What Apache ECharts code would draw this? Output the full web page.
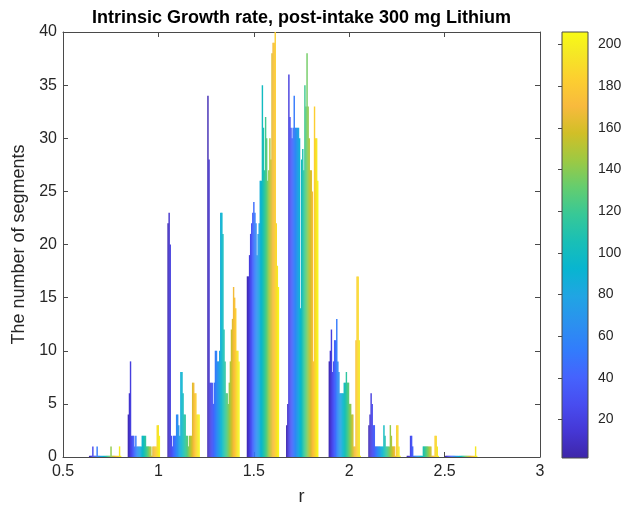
<!DOCTYPE html>
<html>
<head>
<meta charset="utf-8">
<script src="https://cdn.jsdelivr.net/npm/echarts@6/dist/echarts.min.js"></script>
<style>html,body{margin:0;padding:0;background:#fff}#c{width:621px;height:506px}</style>
</head>
<body>
<div id="c"></div>
<script>
// ---- data ----
// histogram bin centres (r)
const binCenters = [0.72, 0.923, 1.131, 1.34, 1.547, 1.753, 1.976, 2.184, 2.385, 2.586];
// counts per bin, left (segment 1, blue) to right (segment 206, yellow), grouped 7 segments per column
const bin1  = [0,0,0,1,0,0,0,1,0,0,0,0,0,0,0,0,0,0,0,0,1,0,0,0,0,0,0,0,1,0];
const bin2  = [4,6,9,2,2,2,1,2,1,1,1,1,1,2,2,2,2,1,1,1,1,1,0,1,1,1,1,3,3,2];
const bin3  = [22,23,20,2,1,2,2,2,4,4,3,2,8,8,6,4,4,2,2,1,2,2,2,7,7,6,6,4,4,4];
const bin4  = [34,28,7,7,7,5,7,10,10,9,9,10,23,23,21,12,9,6,6,5,7,9,12,13,16,15,14,10,10,9];
const bin5  = [17,17,19,21,22,23,24,23,22,19,21,22,26,26,35,31,27,32,30,26,27,30,28,38,39,39,40,22,18,16];
const bin6  = [3,5,36,32,31,30,31,34,31,31,31,31,30,14,28,29,27,35,33,38,33,30,27,27,25,9,33,30,30,26];
const bin7  = [9,10,12,8,9,11,11,13,9,8,6,6,6,6,7,7,8,7,7,5,5,4,4,1,1,11,17,17,11,0];
const bin8  = [3,4,6,5,3,3,1,1,1,1,1,1,1,1,3,2,1,1,1,1,3,2,1,1,1,0,3,3,1,0];
const bin9  = [0,0,0,2,2,1,0,0,0,0,0,0,0,0,0,1,1,1,1,1,1,1,1,0,0,0,2,2,1,0];
const bin10 = [0,0,0,0,0,0,0,0,0,0,0,0,0,0,0,0,0,0,0,0,0,0,0,0,0,0,0,0,1,0];
const binCounts = [bin1,bin2,bin3,bin4,bin5,bin6,bin7,bin8,bin9,bin10];
const colorLimits = [1.5, 206];
const colorbarTicks = [20,40,60,80,100,120,140,160,180,200];

// ---- styling ----
const groupWidth = 0.168;
const PARULA = [
 [0.2422,0.1504,0.6603],[0.2706,0.2147,0.8364],[0.2813,0.3006,0.9414],[0.2699,0.3892,0.9906],
 [0.1963,0.4847,0.9892],[0.1687,0.5703,0.9359],[0.1248,0.6459,0.8883],[0.0297,0.7082,0.8163],
 [0.0964,0.7500,0.7120],[0.2161,0.7843,0.5923],[0.3909,0.8029,0.4354],[0.6174,0.7876,0.2612],
 [0.8203,0.7498,0.1535],[0.9728,0.7298,0.2394],[0.9892,0.8136,0.1885],[0.9597,0.9135,0.1423],
 [0.9769,0.9839,0.0805]
];
const PT = PARULA.map((_, i) => i === PARULA.length - 1 ? 1 : (i * 4) / 63);
function parula(t) {
  t = Math.max(0, Math.min(1, t));
  let i = 0;
  while (i < PT.length - 2 && t > PT[i + 1]) i++;
  const f = (t - PT[i]) / (PT[i + 1] - PT[i]);
  const a = PARULA[i], b = PARULA[i + 1];
  const c = a.map((v, k) => Math.round(255 * (v + (b[k] - v) * f)));
  return 'rgb(' + c.join(',') + ')';
}

const barData = [];
binCounts.forEach((arr, b) => {
  const n = arr.length;
  arr.forEach((v, j) => {
    const x = binCenters[b] - groupWidth / 2 + (j + 0.5) * groupWidth / n;
    barData.push([x, v, (j + 0.5) / n, groupWidth / n]);
  });
});

const AX = '#262626';
const LN = '#4a4a4a';
const FONT = '"Liberation Sans", Arial, sans-serif';

const chart = echarts.init(document.getElementById('c'), null, {renderer: 'canvas'});
chart.setOption({
  backgroundColor: '#fff',
  animation: false,
  textStyle: {fontFamily: FONT},
  title: {
    text: 'Intrinsic Growth rate, post-intake 300 mg Lithium',
    left: 301.5, top: 9, padding: 0, textAlign: 'center',
    textStyle: {fontFamily: FONT, fontWeight: 'bold', fontSize: 18, color: '#000'}
  },
  grid: [
    {left: 63, top: 32, width: 477, height: 425, outerBoundsMode: 'none', containLabel: false},
    {left: 562, top: 32, width: 26, height: 426, outerBoundsMode: 'none', containLabel: false}
  ],
  xAxis: [
    {type: 'value', gridIndex: 0, min: 0.5, max: 3, interval: 0.5, position: 'bottom',
     name: 'r', nameLocation: 'middle', nameGap: 31,
     nameTextStyle: {fontFamily: FONT, fontSize: 18, color: AX},
     axisLine: {show: true, onZero: false, lineStyle: {color: LN, width: 1}},
     axisTick: {show: true, inside: true, length: 5, lineStyle: {color: LN}},
     axisLabel: {fontFamily: FONT, fontSize: 16, color: AX, margin: 7},
     splitLine: {show: false}},
    {type: 'value', gridIndex: 0, min: 0.5, max: 3, interval: 0.5, position: 'top',
     axisLine: {show: true, onZero: false, lineStyle: {color: LN, width: 1}},
     axisTick: {show: true, inside: true, length: 5, lineStyle: {color: LN}},
     axisLabel: {show: false}, splitLine: {show: false}},
    {type: 'value', gridIndex: 1, min: 0, max: 1, show: false}
  ],
  yAxis: [
    {type: 'value', gridIndex: 0, min: 0, max: 40, interval: 5, position: 'left',
     name: 'The number of segments', nameLocation: 'middle', nameGap: 26,
     nameTextStyle: {fontFamily: FONT, fontSize: 18, color: AX},
     axisLine: {show: true, onZero: false, lineStyle: {color: LN, width: 1}},
     axisTick: {show: true, inside: true, length: 5, lineStyle: {color: LN}},
     axisLabel: {fontFamily: FONT, fontSize: 16, color: AX, margin: 6},
     splitLine: {show: false}},
    {type: 'value', gridIndex: 0, min: 0, max: 40, interval: 5, position: 'right',
     axisLine: {show: true, onZero: false, lineStyle: {color: LN, width: 1}},
     axisTick: {show: true, inside: true, length: 5, lineStyle: {color: LN}},
     axisLabel: {show: false}, splitLine: {show: false}},
    {type: 'value', gridIndex: 1, min: colorLimits[0], max: colorLimits[1], position: 'right',
     axisLine: {show: false},
     axisTick: {show: true, inside: true, length: 4, lineStyle: {color: LN}, customValues: colorbarTicks},
     axisLabel: {fontFamily: FONT, fontSize: 14, color: AX, margin: 10, customValues: colorbarTicks},
     splitLine: {show: false}}
  ],
  series: [
    {
      type: 'custom', xAxisIndex: 0, yAxisIndex: 0, clip: true,
      encode: {x: 0, y: 1},
      data: barData,
      renderItem: function (params, api) {
        const x = api.value(0), v = api.value(1), t = api.value(2), cw = api.value(3);
        const top = api.coord([x, v]);
        const base = api.coord([x, 0]);
        const w = api.size([cw, 0])[0];
        let h = base[1] - top[1];
        let y = top[1];
        if (h < 1.2) { h = 1.2; y = base[1] - 1.2; }
        return {
          type: 'rect',
          shape: {x: top[0] - w / 2, y: y, width: w + 0.35, height: h},
          style: {fill: parula(t)}
        };
      }
    },
    {
      type: 'custom', xAxisIndex: 2, yAxisIndex: 2, z: 1,
      data: [[0, colorLimits[0], 1, colorLimits[1]]],
      renderItem: function (params, api) {
        const p0 = api.coord([api.value(0), api.value(3)]);
        const p1 = api.coord([api.value(2), api.value(1)]);
        const stops = PARULA.map((c, i) => ({offset: 1 - PT[i], color: 'rgb(' + c.map(v => Math.round(v * 255)).join(',') + ')'})).reverse();
        return {
          type: 'rect',
          shape: {x: p0[0], y: p0[1], width: p1[0] - p0[0], height: p1[1] - p0[1]},
          style: {
            fill: new echarts.graphic.LinearGradient(0, 0, 0, 1, stops),
            stroke: LN, lineWidth: 1
          }
        };
      }
    }
  ]
});
</script>
</body>
</html>
